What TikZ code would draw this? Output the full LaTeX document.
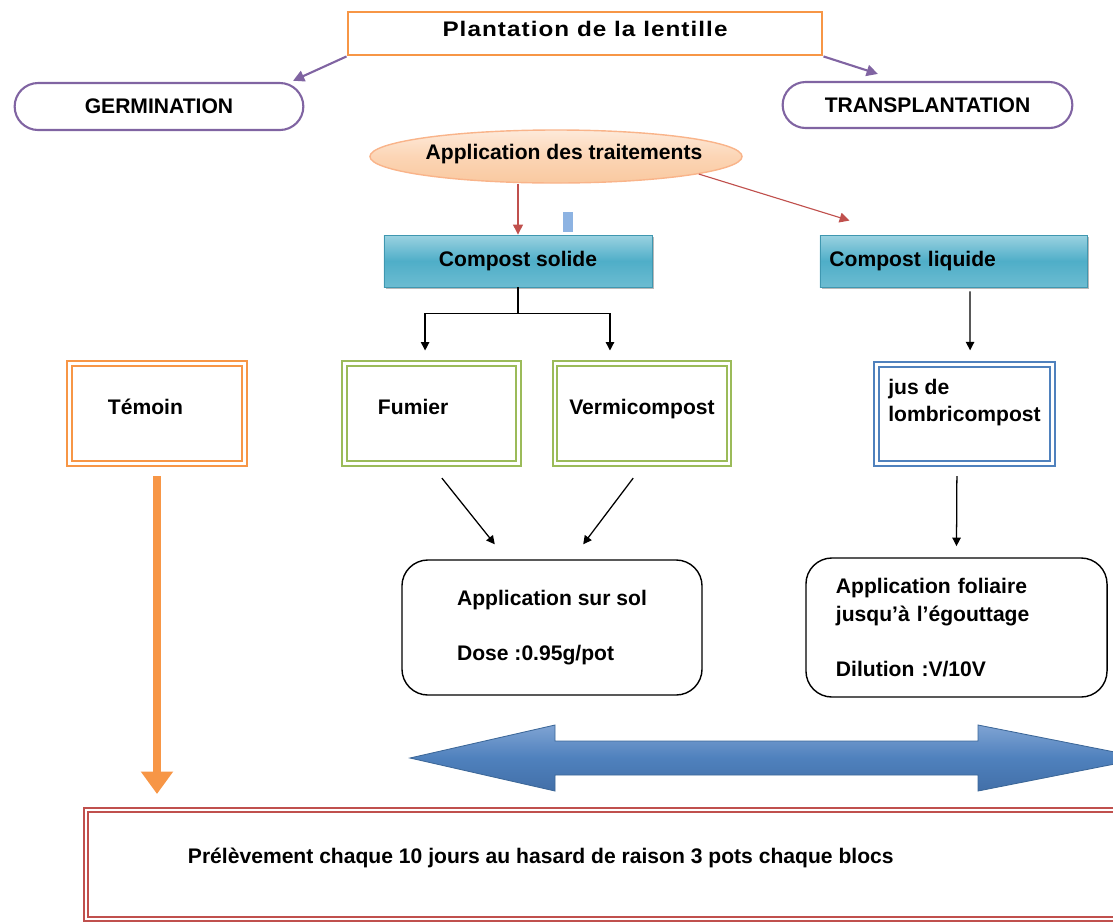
\documentclass[tikz,border=0pt]{standalone}
\usepackage{fontspec}
\setmainfont{Liberation Sans}
\usetikzlibrary{arrows.meta,calc,shapes.geometric,shapes.misc,shadows}

\definecolor{orangeline}{HTML}{F79646}
\definecolor{purpleline}{HTML}{8064A2}
\definecolor{redline}{HTML}{C0504D}
\definecolor{greenline}{HTML}{9BBB59}
\definecolor{blueline}{HTML}{4F81BD}
\definecolor{tealtop}{HTML}{9BD2E1}
\definecolor{tealmid}{HTML}{4FAEC8}
\definecolor{tealbot}{HTML}{6CBCD1}
\definecolor{tealline}{HTML}{3F97B0}
\definecolor{peachtop}{HTML}{FDEADA}
\definecolor{peachmid}{HTML}{FCD5B5}
\definecolor{peachbot}{HTML}{F9C9A0}
\definecolor{peachline}{HTML}{F9B48A}
\definecolor{bigtop}{HTML}{7FA3D3}
\definecolor{bigmid}{HTML}{4F81BD}
\definecolor{bigbot}{HTML}{426FA8}
\definecolor{bigline}{HTML}{3C6798}
\definecolor{paleblue}{HTML}{8DB3E2}

\tikzset{
  lbl/.style={font=\bfseries\fontsize{15}{19.5}\selectfont, text=black},
  titlebox/.style={rectangle, draw=orangeline, line width=2pt, text depth=7pt,
    font=\bfseries\fontsize{15}{18}\selectfont\addfontfeature{FakeStretch=1.15,LetterSpace=5}},
  stadium/.style={rounded rectangle, draw=purpleline, line width=1.5pt, lbl},
  tealbox/.style={rectangle, draw=tealline, line width=0.6pt,
    top color=tealtop, bottom color=tealbot, middle color=tealmid,
    drop shadow={shadow xshift=1.2pt, shadow yshift=-1.5pt, fill=black!55}, lbl},
  dblbox/.style={rectangle, draw=#1, line width=1.4pt, double=white,
    double distance=1.8pt, lbl},
  roundbox/.style={rectangle, rounded corners=0.65cm, draw=black,
    line width=1pt, align=left, lbl},
  purplearrow/.style={draw=purpleline, line width=1.5pt,
    -{Triangle[length=8pt,width=8pt]}},
  redarrow/.style={draw=redline, line width=0.8pt,
    -{Triangle[length=7pt,width=7pt]}},
  blk/.style={draw=black, line width=0.9pt},
  blkarrow/.style={blk, -{Triangle[length=6pt,width=6pt]}}
}

\begin{document}
\begin{tikzpicture}[x=0.025cm, y=-0.025cm]
    \useasboundingbox (0,0) rectangle (1113,923);
    \clip (0,0) rectangle (1113,923);

    % Top of the scheme
    \node[titlebox, minimum width=11.85cm, minimum height=1.075cm] (plant) at (585,33.5) {Plantation de la lentille};
    \node[stadium, minimum width=7.45cm, minimum height=1.175cm] (germ) at (159,106.5) {GERMINATION};
    \node[stadium, minimum width=7.475cm, minimum height=1.15cm] (trans) at (927.5,105) {TRANSPLANTATION};

    \draw[purplearrow] (plant.south west) -- ([xshift=3.35cm,yshift=0.03cm]germ.north);
    \draw[purplearrow] (plant.south east) -- ([xshift=-1.24cm,yshift=0.175cm]trans.north);

    % Treatments
    \node[ellipse, draw=peachline, line width=1pt, top color=peachtop, bottom color=peachbot,
      middle color=peachmid, minimum width=9.3cm, minimum height=1.325cm] (appl) at (556,156.5) {};
    \node[lbl] (applt) at ([xshift=0.2cm,yshift=0.07cm]appl.center) {Application des traitements};

    \fill[paleblue] (563,212) rectangle (573,232);

    \node[tealbox, minimum width=6.7cm, minimum height=1.3cm] (solid) at (518,261) {Compost solide};
    \node[tealbox, minimum width=6.675cm, minimum height=1.3cm, text width=6.2cm, align=left] (liq) at (953.5,261) {Compost liquide};

    \draw[redarrow] (appl.south -| solid.north) -- (solid.north);
    \draw[redarrow] (appl.-7) -- ([xshift=-2.6cm,yshift=0.35cm]liq.north);

    % Boxes of the treatments
    \node[dblbox=orangeline, minimum width=4.375cm, minimum height=2.5cm, text depth=9pt, text width=2.45cm, align=left] (temoin) at (157,413.5) {Témoin};
    \node[dblbox=greenline, minimum width=4.35cm, minimum height=2.5cm, text depth=9pt, text width=2.675cm, align=left] (fumier) at (431.5,413.5) {Fumier};
    \node[dblbox=greenline, minimum width=4.35cm, minimum height=2.5cm, text depth=9pt] (vermi) at (642,413.5) {Vermicompost};
    \node[dblbox=blueline, minimum width=4.4cm, minimum height=2.475cm, align=left] (jus) at (964.5,414) {jus de\\lombricompost\\\mbox{}};

    \draw[blk] (solid.south) -- ++(0,26) coordinate (split);
    \draw[blkarrow] (split) -| ([xshift=-0.16cm,yshift=0.3cm]fumier.north);
    \draw[blkarrow] (split) -| ([xshift=-0.8cm,yshift=0.3cm]vermi.north);
    \draw[blkarrow] ([xshift=0.41cm,yshift=-0.1cm]liq.south) -- ([xshift=0.14cm,yshift=0.33cm]jus.north);

    % Application
    \node[roundbox, minimum width=7.5cm, minimum height=3.375cm] (sol) at (552,627.5) {Application sur sol\\[19.5pt]Dose :0.95g/pot};
    \node[roundbox, minimum width=7.525cm, minimum height=3.475cm, text width=6.025cm] (fol) at (956.5,627.5) {Application foliaire\\jusqu’à l’égouttage\\[19.5pt]Dilution :V/10V};

    \draw[blkarrow] ([xshift=0.26cm,yshift=-0.34cm]fumier.south) -- ([xshift=-1.43cm,yshift=0.375cm]sol.north);
    \draw[blkarrow] ([xshift=-0.22cm,yshift=-0.34cm]vermi.south) -- ([xshift=0.78cm,yshift=0.375cm]sol.north);
    \draw[blkarrow] ([xshift=-0.19cm,yshift=-0.29cm]jus.south) -- ([yshift=0.28cm]fol.north);

    % Big double arrow
    \path[draw=bigline, line width=0.6pt, top color=bigtop, bottom color=bigbot, middle color=bigmid]
      (410,758) -- (555,725) -- (555,741) -- (978,741) -- (978,725) -- (1145,758)
      -- (978,791) -- (978,775) -- (555,775) -- (555,791) -- cycle;

    % Sampling
    \node[dblbox=redline, minimum width=26.35cm, minimum height=2.725cm] (prel) at (613,864.5) {};
    \node[lbl, anchor=west] (prelt) at (183,858) {Prélèvement chaque 10 jours au hasard de raison 3 pots chaque blocs};

    \draw[orangeline, line width=5.5pt, -{Triangle[length=16pt,width=22pt]}]
      ([yshift=-0.29cm]temoin.south) -- ($(temoin.south |- prel.north)+(0,-15)$);

\end{tikzpicture}
\end{document}
